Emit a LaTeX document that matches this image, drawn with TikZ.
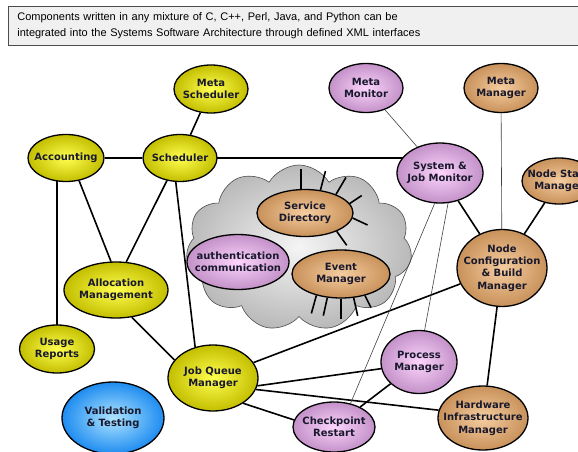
\documentclass[tikz,border=0pt]{standalone}
\usepackage{fontspec}
\setmainfont{Liberation Sans}
\newfontfamily\ballfont{DejaVu Sans}
\usepackage{xcolor}
\definecolor{ylwin}{RGB}{255,255,80}
\definecolor{ylwout}{RGB}{195,190,0}
\definecolor{pplin}{RGB}{252,212,252}
\definecolor{pplout}{RGB}{195,145,200}
\definecolor{tanin}{RGB}{245,205,160}
\definecolor{tanout}{RGB}{200,145,90}
\definecolor{bluin}{RGB}{175,228,255}
\definecolor{bluout}{RGB}{30,140,240}
\definecolor{ink}{RGB}{25,25,45}
\usepackage{tikz}
\usetikzlibrary{shapes.geometric,shapes.symbols,backgrounds,calc}
\tikzset{
  ball/.style={ellipse,draw=black,line width=1.3pt,inner sep=0pt,shading=radial},
  yball/.style={ball,inner color=ylwin,outer color=ylwout},
  pball/.style={ball,inner color=pplin,outer color=pplout},
  tball/.style={ball,inner color=tanin,outer color=tanout},
  bball/.style={ball,inner color=bluin,outer color=bluout},
  sz/.style 2 args={minimum width=#1pt,minimum height=#2pt},
  lbl/.style={font=\ballfont\bfseries\fontsize{10}{12.3}\selectfont,text=ink,%
    align=center,inner sep=0pt},
  link/.style={line width=1.6pt},
  thinlink/.style={line width=0.6pt,draw=black!75},
  spike/.style={line width=1.6pt},
  titlebox/.style={draw=gray!60!black,fill=gray!12,line width=0.8pt,%
    font=\fontsize{11}{16}\selectfont,align=left,inner xsep=9pt},
}

\begin{document}
\begin{tikzpicture}[x=1pt,y=-1pt]
\useasboundingbox (0,0) rectangle (578,452);

\node[titlebox,anchor=north west,text width=580pt,minimum height=39pt] (title) at (8,6)
  {Components written in any mixture of C, C++, Perl, Java, and Python can be\\
   integrated into the Systems Software Architecture through defined XML interfaces};

% scheduling side
\node[yball,sz={74}{48},label={[lbl]center:Meta\\Scheduler}] (msched) at (211,89) {};
\node[yball,sz={76}{47},label={[lbl]center:Accounting}] (acc) at (66,158) {};
\node[yball,sz={74}{47},label={[lbl]center:Scheduler}] (sched) at (180,158) {};
\node[yball,sz={104}{56},label={[lbl]center:Allocation\\Management}] (alloc) at (116,290) {};
\node[yball,sz={75}{48},label={[lbl]center:Usage\\Reports}] (usage) at (57,349) {};
\node[yball,sz={90}{66},label={[lbl]center:Job Queue\\Manager}] (jqm) at (213,378) {};
\node[bball,sz={102}{72},label={[lbl]center:Validation\\\& Testing}] (valid) at (113,418) {};

% monitoring and management side
\node[pball,sz={74}{49},label={[lbl]center:Meta\\Monitor}] (mmon) at (366,88) {};
\node[tball,sz={74}{49},label={[lbl]center:Meta\\Manager}] (mman) at (501,88) {};
\node[pball,sz={86}{60},label={[lbl]center:System \&\\Job Monitor}] (sjm) at (440,173) {};
\node[tball,sz={74}{46},label={[lbl]center:Node State\\Manager}] (nsm) at (559,181) {};
\node[tball,sz={90}{77},label={[lbl]center:Node\\Configuration\\\& Build\\Manager}] (ncb) at (502,268) {};
\node[pball,sz={76}{63},label={[lbl]center:Process\\Manager}] (pm) at (419,362) {};
\node[tball,sz={90}{64},label={[lbl]center:Hardware\\Infrastructure\\Manager}] (him) at (483,418) {};
\node[pball,sz={82}{50},label={[lbl]center:Checkpoint\\Restart}] (cr) at (334,427) {};

% inside the cloud
\node[tball,sz={96}{47},label={[lbl]center:Service\\Directory}] (sd) at (305,213) {};
\node[pball,sz={102}{55},label={[lbl]center:authentication\\communication}] (auth) at (238,262) {};
\node[tball,sz={98}{48},label={[lbl]center:Event\\Manager}] (em) at (341,274) {};

\begin{scope}[on background layer]
\node[cloud,cloud puffs=11,cloud puff arc=120,cloud ignores aspect,sz={226}{166},
  draw=gray!60!black,line width=0.6pt,shading=radial,inner color=gray!8,outer color=gray!55]
  (svc) at (299,248) {};
\draw[link] (msched) -- (sched);
\draw[link] (acc) -- (sched);
\draw[link] (sched.center) -- (sched -| sjm);
\draw[link] (usage.center) -- (usage |- acc);
\draw[link] (acc.300) -- (alloc.100);
\draw[link] (sched.240) -- (alloc.70);
\draw[link] (sched.260) -- (jqm.120);
\draw[link] (alloc.300) -- (jqm.155);
\draw[link] (jqm) -- (ncb);
\draw[link] (jqm.350) -- (pm.190);
\draw[link] (jqm.345) -- (him.170);
\draw[link] (jqm.320) -- (cr.170);
\draw[link] (pm) -- (cr);
\draw[link] (sjm) -- (ncb);
\draw[link] (nsm) -- (ncb);
\draw[link] (ncb) -- (him);
\draw[thinlink] (mman) -- (ncb);
\draw[thinlink] (mmon) -- (sjm);
\draw[thinlink] (sjm.285) -- (pm.80);
\draw[thinlink] (sjm.260) -- (cr.55);
\foreach \a/\dx/\dy in {100/0/-20,56/5/-19,31/10/-17,12/12/-8,-6/15/7,-30/10/14}
  \draw[spike] (sd.\a) -- ++(\dx,\dy);
\foreach \a/\dx/\dy in {221/-5/18,240/-4/18,270/0/20,298/4/18,318/6/12}
  \draw[spike] (em.\a) -- ++(\dx,\dy);
\end{scope}
\end{tikzpicture}
\end{document}
